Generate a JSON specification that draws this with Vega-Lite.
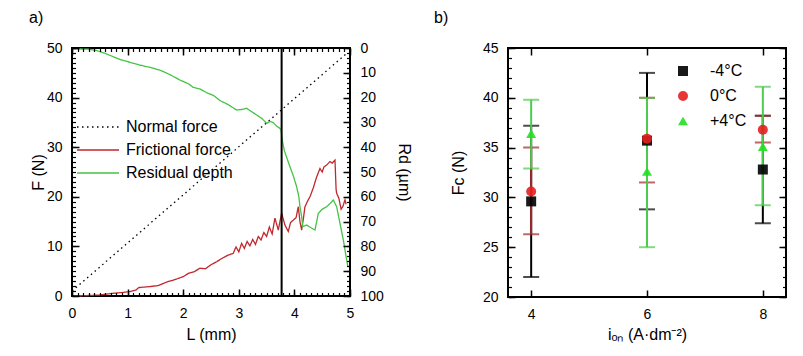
{
  "$schema": "https://vega.github.io/schema/vega-lite/v6.json",
  "background": "white",
  "padding": {"left": 28, "top": 9, "right": 5, "bottom": 5},
  "config": {
    "font": "Liberation Sans",
    "view": {"stroke": "black", "strokeWidth": 2},
    "axis": {"domain": false, "grid": false, "labelFont": "Liberation Sans", "labelFontSize": 14, "labelColor": "black", "titleFont": "Liberation Sans", "titleFontSize": 16, "titleFontWeight": "normal", "titleColor": "black"},
    "legend": {"labelFont": "Liberation Sans", "labelFontSize": 16, "labelColor": "black"},
    "title": {"font": "Liberation Sans", "fontSize": 16, "fontWeight": "normal", "color": "black"}
  },
  "resolve": {"scale": {"color": "independent", "shape": "independent", "strokeDash": "independent"}, "legend": {"color": "independent", "shape": "independent", "strokeDash": "independent"}},
  "datasets": {
    "normal": [{"L": 0, "F": 1}, {"L": 4.95, "F": 49}],
    "friction": [
      {"L": 0, "F": 0}, {"L": 0.3, "F": 0.1}, {"L": 0.5, "F": 0.2}, {"L": 0.7, "F": 0.5}, {"L": 0.9, "F": 0.7},
      {"L": 1.05, "F": 0.9}, {"L": 1.15, "F": 1.2}, {"L": 1.2, "F": 1.7}, {"L": 1.4, "F": 1.9}, {"L": 1.55, "F": 2.1},
      {"L": 1.7, "F": 2.8}, {"L": 1.85, "F": 3.3}, {"L": 2.0, "F": 3.9}, {"L": 2.1, "F": 4.6}, {"L": 2.2, "F": 4.9},
      {"L": 2.3, "F": 5.6}, {"L": 2.4, "F": 5.5}, {"L": 2.5, "F": 6.3}, {"L": 2.6, "F": 6.9}, {"L": 2.7, "F": 7.6},
      {"L": 2.8, "F": 8.2}, {"L": 2.9, "F": 8.6}, {"L": 2.95, "F": 9.9}, {"L": 3.0, "F": 8.9}, {"L": 3.05, "F": 10.6},
      {"L": 3.1, "F": 9.6}, {"L": 3.15, "F": 11.0}, {"L": 3.2, "F": 10.1}, {"L": 3.25, "F": 11.4}, {"L": 3.3, "F": 10.4},
      {"L": 3.35, "F": 12.0}, {"L": 3.4, "F": 11.3}, {"L": 3.45, "F": 12.8}, {"L": 3.5, "F": 12.0}, {"L": 3.55, "F": 13.9},
      {"L": 3.6, "F": 12.5}, {"L": 3.65, "F": 15.7}, {"L": 3.71, "F": 13.3}, {"L": 3.77, "F": 16.7}, {"L": 3.83, "F": 14.3},
      {"L": 3.89, "F": 13.0}, {"L": 3.93, "F": 14.8}, {"L": 3.98, "F": 15.3}, {"L": 4.03, "F": 15.8}, {"L": 4.07, "F": 18.0},
      {"L": 4.1, "F": 15.0}, {"L": 4.13, "F": 13.3}, {"L": 4.16, "F": 15.5}, {"L": 4.19, "F": 18.0}, {"L": 4.24, "F": 19.2},
      {"L": 4.28, "F": 20.0}, {"L": 4.34, "F": 21.8}, {"L": 4.4, "F": 24.0}, {"L": 4.46, "F": 25.7}, {"L": 4.5, "F": 25.0},
      {"L": 4.53, "F": 26.0}, {"L": 4.58, "F": 26.4}, {"L": 4.64, "F": 27.1}, {"L": 4.68, "F": 26.8}, {"L": 4.73, "F": 27.4},
      {"L": 4.75, "F": 21.5}, {"L": 4.76, "F": 20.7}, {"L": 4.8, "F": 19.7}, {"L": 4.84, "F": 17.5}, {"L": 4.87, "F": 18.0},
      {"L": 4.91, "F": 19.4}, {"L": 4.93, "F": 18.5}
    ],
    "depth": [
      {"L": 0, "Rd": 0.3}, {"L": 0.3, "Rd": 0.5}, {"L": 0.44, "Rd": 1.0}, {"L": 0.6, "Rd": 2.2}, {"L": 0.86, "Rd": 4.6},
      {"L": 1.0, "Rd": 5.5}, {"L": 1.22, "Rd": 6.9}, {"L": 1.4, "Rd": 7.8}, {"L": 1.58, "Rd": 8.9}, {"L": 1.75, "Rd": 10.6},
      {"L": 1.94, "Rd": 12.9}, {"L": 2.1, "Rd": 14.5}, {"L": 2.18, "Rd": 15.9}, {"L": 2.3, "Rd": 16.5}, {"L": 2.42, "Rd": 18.0},
      {"L": 2.55, "Rd": 19.2}, {"L": 2.66, "Rd": 21.2}, {"L": 2.8, "Rd": 22.7}, {"L": 2.96, "Rd": 25.0}, {"L": 3.05, "Rd": 24.8},
      {"L": 3.14, "Rd": 24.3}, {"L": 3.22, "Rd": 25.5}, {"L": 3.32, "Rd": 27.0}, {"L": 3.42, "Rd": 28.5}, {"L": 3.5, "Rd": 30.4},
      {"L": 3.56, "Rd": 29.6}, {"L": 3.62, "Rd": 30.1}, {"L": 3.68, "Rd": 31.5}, {"L": 3.74, "Rd": 32.4}, {"L": 3.76, "Rd": 33.0},
      {"L": 3.78, "Rd": 37.0}, {"L": 3.82, "Rd": 41.5}, {"L": 3.92, "Rd": 47.9}, {"L": 3.98, "Rd": 51.5}, {"L": 4.04, "Rd": 55.9},
      {"L": 4.08, "Rd": 60.0}, {"L": 4.1, "Rd": 64.0}, {"L": 4.13, "Rd": 68.0}, {"L": 4.15, "Rd": 72.0}, {"L": 4.22, "Rd": 71.4},
      {"L": 4.3, "Rd": 72.5}, {"L": 4.37, "Rd": 73.4}, {"L": 4.43, "Rd": 66.7}, {"L": 4.5, "Rd": 65.0}, {"L": 4.58, "Rd": 64.0},
      {"L": 4.65, "Rd": 62.5}, {"L": 4.7, "Rd": 61.3}, {"L": 4.76, "Rd": 64.0}, {"L": 4.82, "Rd": 70.7}, {"L": 4.88, "Rd": 77.4},
      {"L": 4.94, "Rd": 85.5}, {"L": 4.96, "Rd": 88.0}
    ],
    "marker": [{"L": 3.77}],
    "fc": [
      {"i": 4, "T": "-4°C", "Fc": 29.6, "lo": 22.0, "hi": 37.2},
      {"i": 4, "T": "0°C", "Fc": 30.6, "lo": 26.3, "hi": 35.0},
      {"i": 4, "T": "+4°C", "Fc": 36.4, "lo": 32.9, "hi": 39.8},
      {"i": 6, "T": "-4°C", "Fc": 35.7, "lo": 28.8, "hi": 42.5},
      {"i": 6, "T": "0°C", "Fc": 35.9, "lo": 31.5, "hi": 40.0},
      {"i": 6, "T": "+4°C", "Fc": 32.6, "lo": 25.0, "hi": 40.0},
      {"i": 8, "T": "-4°C", "Fc": 32.8, "lo": 27.4, "hi": 38.2},
      {"i": 8, "T": "0°C", "Fc": 36.8, "lo": 35.5, "hi": 38.2},
      {"i": 8, "T": "+4°C", "Fc": 35.1, "lo": 29.2, "hi": 41.1}
    ]
  },
  "spacing": 20,
  "hconcat": [
    {
      "width": 278,
      "height": 248,
      "title": {"text": "a)", "anchor": "start", "frame": "group", "dx": -43, "offset": 15},
      "layer": [
        {
          "data": {"name": "normal"},
          "mark": {"type": "line", "strokeWidth": 1.3},
          "encoding": {
            "x": {"field": "L", "type": "quantitative", "scale": {"domain": [0, 5], "nice": false},
              "axis": {"orient": "bottom", "zindex": 2, "title": "L (mm)", "tickCount": 5, "format": "d", "ticks": true, "tickColor": "black", "tickWidth": 1.5, "tickSize": 7, "offset": -7, "labelPadding": 10, "titlePadding": 6, "labelFlush": false}},
            "y": {"field": "F", "type": "quantitative", "scale": {"domain": [0, 50], "nice": false},
              "axis": {"orient": "left", "zindex": 2, "title": "F (N)", "tickCount": 5, "ticks": true, "tickColor": "black", "tickWidth": 1.5, "tickSize": 7, "offset": -7, "labelPadding": 10, "titlePadding": 0, "labelFlush": false}},
            "color": {"datum": "Normal force", "type": "nominal", "scale": {"domain": ["Normal force", "Frictional force", "Residual depth"], "range": ["black", "#c1272d", "#44c444"]}, "legend": {"title": null, "orient": "none", "legendX": 4, "legendY": 68, "symbolType": "stroke", "symbolSize": 1764, "symbolStrokeWidth": 1.6, "clipHeight": 22, "rowPadding": 1, "labelOffset": 6, "padding": 0}},
            "strokeDash": {"datum": "Normal force", "type": "nominal", "scale": {"domain": ["Normal force", "Frictional force", "Residual depth"], "range": [[1.5, 3.5], [1, 0], [1, 0]]}, "legend": {"title": null, "orient": "none", "legendX": 4, "legendY": 68, "symbolType": "stroke", "symbolSize": 1764, "symbolStrokeWidth": 1.6, "clipHeight": 22, "rowPadding": 1, "labelOffset": 6, "padding": 0}}
          }
        },
        {
          "data": {"name": "friction"},
          "mark": {"type": "line", "strokeWidth": 1.3},
          "encoding": {
            "x": {"field": "L", "type": "quantitative", "scale": {"domain": [0, 5], "nice": false},
              "axis": {"orient": "bottom", "zindex": 2, "title": null, "labels": false, "tickCount": 50, "ticks": true, "tickColor": "black", "tickWidth": 1.2, "tickSize": 3.5, "offset": -3.5}},
            "y": {"field": "F", "type": "quantitative", "scale": {"domain": [0, 50], "nice": false},
              "axis": {"orient": "left", "zindex": 2, "title": null, "labels": false, "tickCount": 50, "ticks": true, "tickColor": "black", "tickWidth": 1.2, "tickSize": 3.5, "offset": -3.5}},
            "color": {"datum": "Frictional force", "type": "nominal"},
            "strokeDash": {"datum": "Frictional force", "type": "nominal"}
          }
        },
        {
          "data": {"name": "depth"},
          "mark": {"type": "line", "strokeWidth": 1.3},
          "encoding": {
            "x": {"field": "L", "type": "quantitative", "scale": {"domain": [0, 5], "nice": false},
              "axis": {"orient": "top", "zindex": 2, "title": null, "labels": false, "tickCount": 5, "ticks": true, "tickColor": "black", "tickWidth": 1.5, "tickSize": 7, "offset": -7}},
            "y": {"field": "Rd", "type": "quantitative", "scale": {"domain": [0, 100], "nice": false, "reverse": true},
              "axis": {"orient": "right", "zindex": 2, "title": "Rd (µm)", "tickCount": 10, "ticks": true, "tickColor": "black", "tickWidth": 1.5, "tickSize": 7, "offset": -7, "labelPadding": 10, "titlePadding": 12, "labelFlush": false}},
            "color": {"datum": "Residual depth", "type": "nominal"},
            "strokeDash": {"datum": "Residual depth", "type": "nominal"}
          }
        },
        {
          "data": {"name": "depth"},
          "mark": {"type": "line", "opacity": 0},
          "encoding": {
            "x": {"field": "L", "type": "quantitative", "scale": {"domain": [0, 5], "nice": false}, "axis": null},
            "y": {"field": "Rd", "type": "quantitative", "scale": {"domain": [0, 100], "nice": false, "reverse": true},
              "axis": {"orient": "right", "zindex": 2, "title": null, "labels": false, "tickCount": 50, "ticks": true, "tickColor": "black", "tickWidth": 1.2, "tickSize": 3.5, "offset": -3.5}}
          }
        },
        {
          "data": {"name": "marker"},
          "mark": {"type": "rule", "color": "black", "strokeWidth": 2},
          "encoding": {
            "x": {"field": "L", "type": "quantitative", "scale": {"domain": [0, 5], "nice": false},
              "axis": {"orient": "top", "zindex": 2, "title": null, "labels": false, "tickCount": 50, "ticks": true, "tickColor": "black", "tickWidth": 1.2, "tickSize": 3.5, "offset": -3.5}}
          }
        }
      ],
      "resolve": {"scale": {"y": "independent"}, "axis": {"x": "independent", "y": "independent"}}
    },
    {
      "width": 278,
      "height": 249,
      "title": {"text": "b)", "anchor": "start", "frame": "group", "dx": -74, "offset": 15},
      "data": {"name": "fc"},
      "layer": [
        {
          "transform": [{"filter": "datum.T == '-4°C'"}],
          "mark": {"type": "errorbar", "color": "black", "thickness": 2, "ticks": {"size": 16, "color": "black", "thickness": 2}},
          "encoding": {
            "x": {"field": "i", "type": "quantitative", "scale": {"domain": [3.6, 8.4], "nice": false, "zero": false},
              "axis": {"orient": "bottom", "zindex": 2, "title": "iₒₙ (A·dm⁻²)", "tickCount": 3, "format": "d", "ticks": true, "tickColor": "black", "tickWidth": 1.5, "tickSize": 7, "offset": -7, "labelPadding": 10, "titlePadding": 5}},
            "y": {"field": "lo", "type": "quantitative", "scale": {"domain": [20, 45], "nice": false, "zero": false},
              "axis": {"orient": "left", "zindex": 2, "title": "Fc (N)", "tickCount": 5, "ticks": true, "tickColor": "black", "tickWidth": 1.5, "tickSize": 7, "offset": -7, "labelPadding": 10, "titlePadding": 16, "labelFlush": false}},
            "y2": {"field": "hi"}
          }
        },
        {
          "transform": [{"filter": "datum.T == '0°C'"}],
          "mark": {"type": "errorbar", "color": "#a4262a", "thickness": 2, "ticks": {"size": 16, "color": "#a4262a", "thickness": 2}},
          "encoding": {
            "x": {"field": "i", "type": "quantitative", "scale": {"domain": [3.6, 8.4], "nice": false, "zero": false},
              "axis": {"orient": "top", "zindex": 2, "title": null, "labels": false, "tickCount": 3, "ticks": true, "tickColor": "black", "tickWidth": 1.5, "tickSize": 7, "offset": -7}},
            "y": {"field": "lo", "type": "quantitative", "scale": {"domain": [20, 45], "nice": false, "zero": false},
              "axis": {"orient": "left", "zindex": 2, "title": null, "labels": false, "tickCount": 25, "ticks": true, "tickColor": "black", "tickWidth": 1.2, "tickSize": 3.5, "offset": -3.5}},
            "y2": {"field": "hi"}
          }
        },
        {
          "transform": [{"filter": "datum.T == '+4°C'"}],
          "mark": {"type": "errorbar", "color": "#4ccb4c", "thickness": 2, "ticks": {"size": 16, "color": "#4ccb4c", "thickness": 2}},
          "encoding": {
            "x": {"field": "i", "type": "quantitative", "scale": {"domain": [3.6, 8.4], "nice": false, "zero": false}, "axis": null},
            "y": {"field": "lo", "type": "quantitative", "scale": {"domain": [20, 45], "nice": false, "zero": false},
              "axis": {"orient": "right", "zindex": 2, "title": null, "labels": false, "tickCount": 5, "ticks": true, "tickColor": "black", "tickWidth": 1.5, "tickSize": 7, "offset": -7}},
            "y2": {"field": "hi"}
          }
        },
        {
          "mark": {"type": "point", "filled": true, "opacity": 0.9, "size": 100},
          "encoding": {
            "x": {"field": "i", "type": "quantitative", "scale": {"domain": [3.6, 8.4], "nice": false, "zero": false}, "axis": null},
            "y": {"field": "Fc", "type": "quantitative", "scale": {"domain": [20, 45], "nice": false, "zero": false},
              "axis": {"orient": "right", "zindex": 2, "title": null, "labels": false, "tickCount": 25, "ticks": true, "tickColor": "black", "tickWidth": 1.2, "tickSize": 3.5, "offset": -3.5}},
            "color": {"field": "T", "type": "nominal", "scale": {"domain": ["-4°C", "0°C", "+4°C"], "range": ["black", "#e3201f", "#22e022"]},
              "legend": {"title": null, "orient": "none", "legendX": 167, "legendY": 15, "symbolSize": 100, "rowPadding": 9, "labelOffset": 19, "padding": 0}},
            "shape": {"field": "T", "type": "nominal", "scale": {"domain": ["-4°C", "0°C", "+4°C"], "range": ["square", "circle", "triangle-up"]},
              "legend": {"title": null, "orient": "none", "legendX": 167, "legendY": 15, "symbolSize": 100, "rowPadding": 9, "labelOffset": 19, "padding": 0}}
          }
        }
      ],
      "resolve": {"axis": {"x": "independent", "y": "independent"}}
    }
  ]
}
